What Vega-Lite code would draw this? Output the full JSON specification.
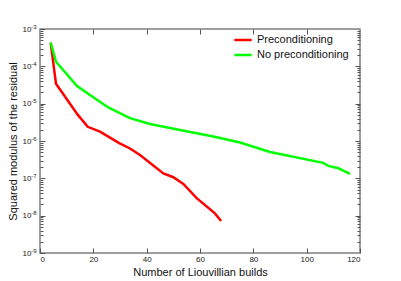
{
  "$schema": "https://vega.github.io/schema/vega-lite/v6.json",
  "width": 320,
  "height": 224,
  "autosize": {"type": "none"},
  "padding": {"left": 40, "top": 29, "right": 41, "bottom": 28},
  "background": "white",
  "config": {
    "font": "Liberation Sans",
    "view": {"stroke": "#808080", "strokeWidth": 1.5},
    "axis": {"domain": false, "grid": false, "tickColor": "#555555", "labelColor": "#222222", "titleColor": "#111111", "titleFontWeight": "normal", "labelFont": "Liberation Sans", "titleFont": "Liberation Sans"}
  },
  "data": {"values": [
    {"method": "Preconditioning", "builds": 4, "residual": 4.3e-4},
    {"method": "Preconditioning", "builds": 6, "residual": 3.4e-5},
    {"method": "Preconditioning", "builds": 14.2, "residual": 5.0e-6},
    {"method": "Preconditioning", "builds": 17.9, "residual": 2.4e-6},
    {"method": "Preconditioning", "builds": 22.5, "residual": 1.78e-6},
    {"method": "Preconditioning", "builds": 29.7, "residual": 8.8e-7},
    {"method": "Preconditioning", "builds": 33.75, "residual": 6.3e-7},
    {"method": "Preconditioning", "builds": 37.5, "residual": 4.2e-7},
    {"method": "Preconditioning", "builds": 46.25, "residual": 1.35e-7},
    {"method": "Preconditioning", "builds": 50, "residual": 1.07e-7},
    {"method": "Preconditioning", "builds": 53.75, "residual": 7.1e-8},
    {"method": "Preconditioning", "builds": 58.75, "residual": 2.95e-8},
    {"method": "Preconditioning", "builds": 65.6, "residual": 1.15e-8},
    {"method": "Preconditioning", "builds": 67.9, "residual": 7.2e-9},
    {"method": "No preconditioning", "builds": 4, "residual": 4.3e-4},
    {"method": "No preconditioning", "builds": 6, "residual": 1.33e-4},
    {"method": "No preconditioning", "builds": 13.9, "residual": 2.95e-5},
    {"method": "No preconditioning", "builds": 18.75, "residual": 1.7e-5},
    {"method": "No preconditioning", "builds": 25.6, "residual": 7.9e-6},
    {"method": "No preconditioning", "builds": 33.75, "residual": 4.1e-6},
    {"method": "No preconditioning", "builds": 41.25, "residual": 2.85e-6},
    {"method": "No preconditioning", "builds": 52.5, "residual": 1.97e-6},
    {"method": "No preconditioning", "builds": 65, "residual": 1.32e-6},
    {"method": "No preconditioning", "builds": 75, "residual": 9.1e-7},
    {"method": "No preconditioning", "builds": 86.25, "residual": 5.1e-7},
    {"method": "No preconditioning", "builds": 106.2, "residual": 2.6e-7},
    {"method": "No preconditioning", "builds": 108.1, "residual": 2.15e-7},
    {"method": "No preconditioning", "builds": 111.9, "residual": 1.86e-7},
    {"method": "No preconditioning", "builds": 116.25, "residual": 1.32e-7}
  ]},
  "layer": [
    {
      "mark": {"type": "line", "strokeWidth": 2.5, "clip": true},
      "encoding": {
        "x": {"field": "builds", "type": "quantitative", "scale": {"domain": [0, 120], "nice": false},
          "axis": {"orient": "bottom", "values": [0, 20, 40, 60, 80, 100, 120], "tickSize": -5, "labelPadding": 7, "labelFontSize": 8, "title": "Number of Liouvillian builds", "titleFontSize": 11, "titlePadding": 3}},
        "y": {"field": "residual", "type": "quantitative", "scale": {"type": "log", "domain": [1e-9, 1e-3], "nice": false},
          "axis": {"orient": "left", "values": [1e-9, 1e-8, 1e-7, 1e-6, 1e-5, 1e-4, 1e-3], "tickSize": -5, "labelPadding": 14, "labelFontSize": 8,
            "labelExpr": "'10'",
            "title": "Squared modulus of the residual", "titleFontSize": 11, "titlePadding": 4}},
        "color": {"field": "method", "type": "nominal",
          "scale": {"domain": ["Preconditioning", "No preconditioning"], "range": ["#ff0000", "#00ff00"]},
          "legend": {"orient": "none", "legendX": 193, "legendY": 1, "padding": 0, "title": null, "symbolType": "stroke", "symbolStrokeWidth": 2.5, "symbolSize": 300, "labelFontSize": 11, "labelColor": "#111111", "rowPadding": 0}}
      }
    },
    {
      "mark": {"type": "line", "strokeOpacity": 0},
      "encoding": {
        "x": {"field": "builds", "type": "quantitative", "axis": {"orient": "top", "values": [20, 40, 60, 80, 100], "tickSize": -5, "labels": false, "title": null}},
        "y": {"field": "residual", "type": "quantitative",
          "axis": {"orient": "left", "values": [2e-9,3e-9,4e-9,5e-9,6e-9,7e-9,8e-9,9e-9,2e-8,3e-8,4e-8,5e-8,6e-8,7e-8,8e-8,9e-8,2e-7,3e-7,4e-7,5e-7,6e-7,7e-7,8e-7,9e-7,2e-6,3e-6,4e-6,5e-6,6e-6,7e-6,8e-6,9e-6,2e-5,3e-5,4e-5,5e-5,6e-5,7e-5,8e-5,9e-5,2e-4,3e-4,4e-4,5e-4,6e-4,7e-4,8e-4,9e-4], "tickSize": -3, "labels": false, "title": null}}
      }
    },
    {
      "mark": {"type": "line", "strokeOpacity": 0},
      "encoding": {
        "x": {"field": "builds", "type": "quantitative", "axis": null},
        "y": {"field": "residual", "type": "quantitative", "axis": {"orient": "right", "values": [1e-8, 1e-7, 1e-6, 1e-5, 1e-4], "tickSize": -5, "labels": false, "title": null}}
      }
    },
    {
      "mark": {"type": "line", "strokeOpacity": 0},
      "encoding": {
        "x": {"field": "builds", "type": "quantitative", "axis": null},
        "y": {"field": "residual", "type": "quantitative",
          "axis": {"orient": "right", "values": [2e-9,3e-9,4e-9,5e-9,6e-9,7e-9,8e-9,9e-9,2e-8,3e-8,4e-8,5e-8,6e-8,7e-8,8e-8,9e-8,2e-7,3e-7,4e-7,5e-7,6e-7,7e-7,8e-7,9e-7,2e-6,3e-6,4e-6,5e-6,6e-6,7e-6,8e-6,9e-6,2e-5,3e-5,4e-5,5e-5,6e-5,7e-5,8e-5,9e-5,2e-4,3e-4,4e-4,5e-4,6e-4,7e-4,8e-4,9e-4], "tickSize": -3, "labels": false, "title": null}}
      }
    },
    {
      "mark": {"type": "line", "strokeOpacity": 0},
      "encoding": {
        "x": {"field": "builds", "type": "quantitative", "axis": null},
        "y": {"field": "residual", "type": "quantitative",
          "axis": {"orient": "left", "values": [1e-9, 1e-8, 1e-7, 1e-6, 1e-5, 1e-4, 1e-3], "ticks": false, "labelPadding": 4, "labelFontSize": 6, "labelOffset": -3,
            "labelExpr": "'-' + abs(round(log(datum.value)/LN10))", "title": null}}
      }
    }
  ],
  "resolve": {"axis": {"x": "independent", "y": "independent"}}
}
